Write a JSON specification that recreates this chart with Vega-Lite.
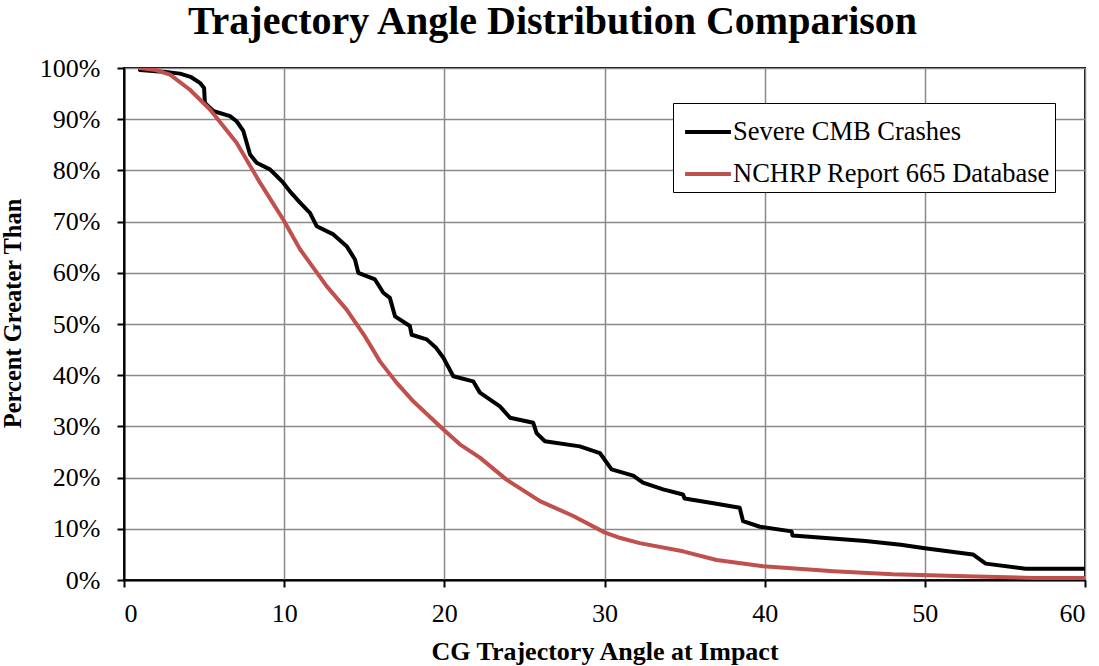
{
  "$schema": "https://vega.github.io/schema/vega-lite/v6.json",
  "width": 961,
  "height": 512,
  "autosize": {"type": "none"},
  "padding": {"left": 124, "top": 68, "right": 14, "bottom": 86},
  "background": "white",
  "title": {
    "text": "Trajectory Angle Distribution Comparison",
    "font": "Liberation Serif",
    "fontSize": 40,
    "fontWeight": "bold",
    "color": "black",
    "anchor": "middle",
    "dx": -52,
    "offset": 13
  },
  "config": {
    "font": "Liberation Serif",
    "view": {"stroke": "black", "strokeWidth": 2},
    "axis": {
      "labelFont": "Liberation Serif",
      "labelFontSize": 26,
      "labelColor": "black",
      "titleFont": "Liberation Serif",
      "titleFontSize": 26,
      "titleFontWeight": "bold",
      "titleColor": "black",
      "gridColor": "#8a8a8a",
      "gridWidth": 1.5,
      "domainColor": "black",
      "domainWidth": 2,
      "tickColor": "black",
      "tickWidth": 2,
      "tickSize": 7
    }
  },
  "data": {
    "values": [
      {"series": "Severe CMB Crashes", "angle": 1.0, "pct": 99.6},
      {"series": "Severe CMB Crashes", "angle": 2.6, "pct": 99.2},
      {"series": "Severe CMB Crashes", "angle": 3.5, "pct": 98.9},
      {"series": "Severe CMB Crashes", "angle": 4.2, "pct": 98.2},
      {"series": "Severe CMB Crashes", "angle": 4.74, "pct": 97.1},
      {"series": "Severe CMB Crashes", "angle": 5.0, "pct": 96.1},
      {"series": "Severe CMB Crashes", "angle": 5.05, "pct": 93.2},
      {"series": "Severe CMB Crashes", "angle": 5.57, "pct": 91.6},
      {"series": "Severe CMB Crashes", "angle": 6.62, "pct": 90.6},
      {"series": "Severe CMB Crashes", "angle": 7.03, "pct": 89.6},
      {"series": "Severe CMB Crashes", "angle": 7.45, "pct": 87.7},
      {"series": "Severe CMB Crashes", "angle": 7.87, "pct": 83.1},
      {"series": "Severe CMB Crashes", "angle": 8.28, "pct": 81.5},
      {"series": "Severe CMB Crashes", "angle": 9.11, "pct": 80.2},
      {"series": "Severe CMB Crashes", "angle": 9.53, "pct": 78.9},
      {"series": "Severe CMB Crashes", "angle": 9.94, "pct": 77.6},
      {"series": "Severe CMB Crashes", "angle": 10.36, "pct": 75.9},
      {"series": "Severe CMB Crashes", "angle": 10.99, "pct": 73.7},
      {"series": "Severe CMB Crashes", "angle": 11.61, "pct": 71.7},
      {"series": "Severe CMB Crashes", "angle": 12.03, "pct": 69.1},
      {"series": "Severe CMB Crashes", "angle": 13.07, "pct": 67.5},
      {"series": "Severe CMB Crashes", "angle": 13.9, "pct": 65.2},
      {"series": "Severe CMB Crashes", "angle": 14.42, "pct": 62.6},
      {"series": "Severe CMB Crashes", "angle": 14.63, "pct": 60.0},
      {"series": "Severe CMB Crashes", "angle": 15.67, "pct": 58.7},
      {"series": "Severe CMB Crashes", "angle": 16.19, "pct": 56.1},
      {"series": "Severe CMB Crashes", "angle": 16.6, "pct": 55.1},
      {"series": "Severe CMB Crashes", "angle": 16.92, "pct": 51.5},
      {"series": "Severe CMB Crashes", "angle": 17.85, "pct": 49.6},
      {"series": "Severe CMB Crashes", "angle": 17.96, "pct": 47.9},
      {"series": "Severe CMB Crashes", "angle": 18.9, "pct": 47.0},
      {"series": "Severe CMB Crashes", "angle": 19.5, "pct": 45.3},
      {"series": "Severe CMB Crashes", "angle": 19.94, "pct": 43.4},
      {"series": "Severe CMB Crashes", "angle": 20.56, "pct": 39.8},
      {"series": "Severe CMB Crashes", "angle": 21.8, "pct": 38.8},
      {"series": "Severe CMB Crashes", "angle": 22.22, "pct": 36.6},
      {"series": "Severe CMB Crashes", "angle": 23.47, "pct": 33.9},
      {"series": "Severe CMB Crashes", "angle": 24.1, "pct": 31.7},
      {"series": "Severe CMB Crashes", "angle": 25.55, "pct": 30.7},
      {"series": "Severe CMB Crashes", "angle": 25.76, "pct": 28.7},
      {"series": "Severe CMB Crashes", "angle": 26.28, "pct": 27.1},
      {"series": "Severe CMB Crashes", "angle": 28.46, "pct": 26.1},
      {"series": "Severe CMB Crashes", "angle": 29.71, "pct": 24.8},
      {"series": "Severe CMB Crashes", "angle": 30.44, "pct": 21.6},
      {"series": "Severe CMB Crashes", "angle": 31.79, "pct": 20.4},
      {"series": "Severe CMB Crashes", "angle": 32.4, "pct": 19.0},
      {"series": "Severe CMB Crashes", "angle": 33.66, "pct": 17.7},
      {"series": "Severe CMB Crashes", "angle": 34.9, "pct": 16.7},
      {"series": "Severe CMB Crashes", "angle": 35.0, "pct": 15.9},
      {"series": "Severe CMB Crashes", "angle": 36.99, "pct": 14.9},
      {"series": "Severe CMB Crashes", "angle": 38.44, "pct": 14.1},
      {"series": "Severe CMB Crashes", "angle": 38.65, "pct": 11.5},
      {"series": "Severe CMB Crashes", "angle": 39.7, "pct": 10.4},
      {"series": "Severe CMB Crashes", "angle": 41.68, "pct": 9.5},
      {"series": "Severe CMB Crashes", "angle": 41.74, "pct": 8.7},
      {"series": "Severe CMB Crashes", "angle": 46.3, "pct": 7.6},
      {"series": "Severe CMB Crashes", "angle": 48.5, "pct": 6.9},
      {"series": "Severe CMB Crashes", "angle": 50.0, "pct": 6.2},
      {"series": "Severe CMB Crashes", "angle": 53.0, "pct": 5.0},
      {"series": "Severe CMB Crashes", "angle": 53.8, "pct": 3.2},
      {"series": "Severe CMB Crashes", "angle": 56.3, "pct": 2.2},
      {"series": "Severe CMB Crashes", "angle": 60.0, "pct": 2.2},
      {"series": "NCHRP Report 665 Database", "angle": 1.0, "pct": 100.0},
      {"series": "NCHRP Report 665 Database", "angle": 2.0, "pct": 99.6},
      {"series": "NCHRP Report 665 Database", "angle": 2.87, "pct": 98.7},
      {"series": "NCHRP Report 665 Database", "angle": 4.1, "pct": 95.8},
      {"series": "NCHRP Report 665 Database", "angle": 5.37, "pct": 91.9},
      {"series": "NCHRP Report 665 Database", "angle": 7.03, "pct": 85.4},
      {"series": "NCHRP Report 665 Database", "angle": 8.49, "pct": 77.6},
      {"series": "NCHRP Report 665 Database", "angle": 9.94, "pct": 70.4},
      {"series": "NCHRP Report 665 Database", "angle": 10.99, "pct": 64.6},
      {"series": "NCHRP Report 665 Database", "angle": 12.65, "pct": 57.4},
      {"series": "NCHRP Report 665 Database", "angle": 13.9, "pct": 52.8},
      {"series": "NCHRP Report 665 Database", "angle": 15.0, "pct": 47.8},
      {"series": "NCHRP Report 665 Database", "angle": 15.98, "pct": 42.7},
      {"series": "NCHRP Report 665 Database", "angle": 17.0, "pct": 38.6},
      {"series": "NCHRP Report 665 Database", "angle": 18.06, "pct": 34.9},
      {"series": "NCHRP Report 665 Database", "angle": 19.94, "pct": 29.4},
      {"series": "NCHRP Report 665 Database", "angle": 20.97, "pct": 26.5},
      {"series": "NCHRP Report 665 Database", "angle": 22.22, "pct": 23.9},
      {"series": "NCHRP Report 665 Database", "angle": 23.88, "pct": 19.6},
      {"series": "NCHRP Report 665 Database", "angle": 25.97, "pct": 15.4},
      {"series": "NCHRP Report 665 Database", "angle": 28.05, "pct": 12.5},
      {"series": "NCHRP Report 665 Database", "angle": 30.0, "pct": 9.3},
      {"series": "NCHRP Report 665 Database", "angle": 31.0, "pct": 8.2},
      {"series": "NCHRP Report 665 Database", "angle": 32.2, "pct": 7.2},
      {"series": "NCHRP Report 665 Database", "angle": 34.9, "pct": 5.6},
      {"series": "NCHRP Report 665 Database", "angle": 37.0, "pct": 3.9},
      {"series": "NCHRP Report 665 Database", "angle": 39.9, "pct": 2.7},
      {"series": "NCHRP Report 665 Database", "angle": 44.3, "pct": 1.7},
      {"series": "NCHRP Report 665 Database", "angle": 48.0, "pct": 1.1},
      {"series": "NCHRP Report 665 Database", "angle": 52.6, "pct": 0.75},
      {"series": "NCHRP Report 665 Database", "angle": 56.8, "pct": 0.4},
      {"series": "NCHRP Report 665 Database", "angle": 60.0, "pct": 0.4}
    ]
  },
  "mark": {"type": "line", "strokeWidth": 4, "strokeJoin": "round", "strokeCap": "round", "clip": true},
  "encoding": {
    "x": {
      "field": "angle",
      "type": "quantitative",
      "scale": {"domain": [0, 60], "nice": false, "zero": false},
      "axis": {
        "title": "CG Trajectory Angle at Impact",
        "values": [0, 10, 20, 30, 40, 50, 60],
        "labelPadding": 13,
        "titlePadding": 12
      }
    },
    "y": {
      "field": "pct",
      "type": "quantitative",
      "scale": {"domain": [0, 100], "nice": false},
      "axis": {
        "title": "Percent Greater Than",
        "titleFontSize": 24.5,
        "titleY": 245,
        "values": [0, 10, 20, 30, 40, 50, 60, 70, 80, 90, 100],
        "labelExpr": "datum.value + '%'",
        "labelPadding": 17,
        "titlePadding": 14
      }
    },
    "color": {
      "field": "series",
      "type": "nominal",
      "sort": ["Severe CMB Crashes", "NCHRP Report 665 Database"],
      "scale": {"domain": ["Severe CMB Crashes", "NCHRP Report 665 Database"], "range": ["#000000", "#c0504d"]},
      "legend": {
        "title": null,
        "orient": "none",
        "legendX": 549,
        "legendY": 35,
        "direction": "vertical",
        "symbolType": "stroke",
        "symbolSize": 2100,
        "symbolStrokeWidth": 4,
        "symbolOffset": 6,
        "labelFont": "Liberation Serif",
        "labelFontSize": 26.5,
        "labelLimit": 500,
        "labelColor": "black",
        "labelOffset": 0,
        "rowPadding": 3,
        "padding": 4,
        "strokeColor": "black",
        "fillColor": "white"
      }
    }
  }
}
